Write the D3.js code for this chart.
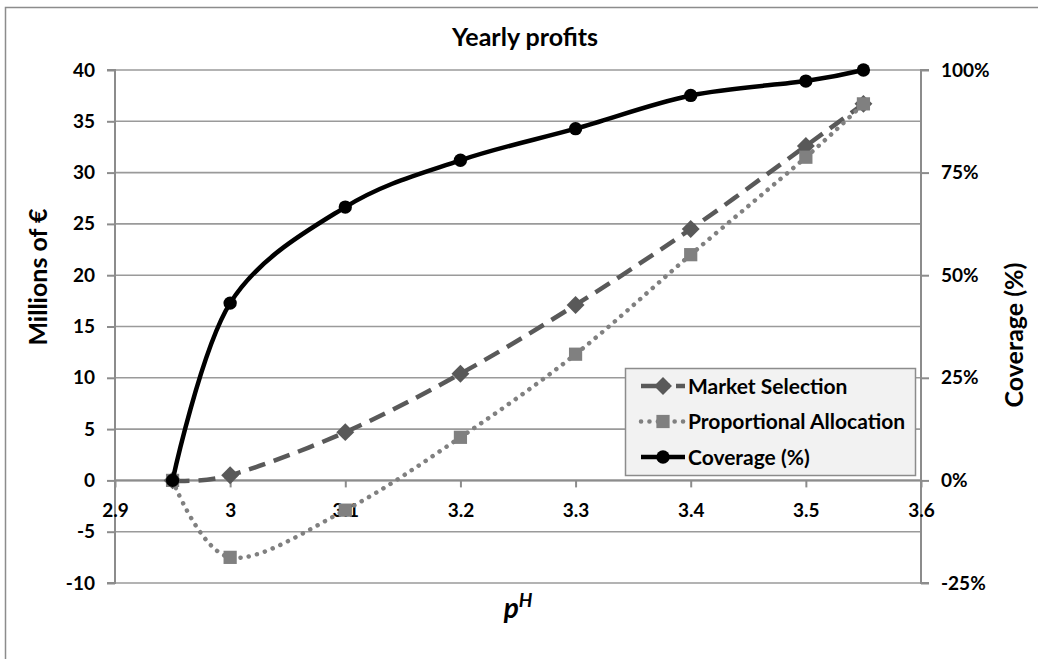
<!DOCTYPE html>
<html>
<head>
<meta charset="utf-8">
<script src="https://cdn.jsdelivr.net/npm/d3@7"></script>
<style>
  html, body { margin: 0; padding: 0; background: #fff; }
  svg text { font-family: Lato, "Open Sans", sans-serif; font-weight: bold; fill: #000; }
</style>
</head>
<body>
<svg id="chart" width="1038" height="659"></svg>
<script>
// Price levels p^H where the three series are sampled
const prices = [2.95, 3.0, 3.1, 3.2, 3.3, 3.4, 3.5, 3.55];
// Yearly profits, millions of euro
const marketSelection = [0, 0.5, 4.7, 10.4, 17.1, 24.5, 32.6, 36.7];
const proportionalAllocation = [0, -7.5, -2.9, 4.2, 12.3, 22.0, 31.5, 36.7];
// Coverage, percent
const coverage = [0, 43.2, 66.6, 78.0, 85.7, 93.8, 97.3, 100];

const xTicks = [2.9, 3.0, 3.1, 3.2, 3.3, 3.4, 3.5, 3.6];
const yLeftTicks = [-10, -5, 0, 5, 10, 15, 20, 25, 30, 35, 40];
const yRightTicks = [-25, 0, 25, 50, 75, 100];

const svg = d3.select("#chart");
const plot = { left: 115, right: 921, top: 70, bottom: 583 };

const x = d3.scaleLinear().domain([2.9, 3.6]).range([plot.left, plot.right]);
const yL = d3.scaleLinear().domain([-10, 40]).range([plot.bottom, plot.top]);
const yR = d3.scaleLinear().domain([-25, 100]).range([plot.bottom, plot.top]);

// outer chart frame
svg.append("rect")
  .attr("x", 5.5).attr("y", 7.5).attr("width", 1100).attr("height", 700)
  .attr("fill", "none").attr("stroke", "#8c8c8c").attr("stroke-width", 1.5);

// title
svg.append("text").attr("x", 525).attr("y", 46)
  .attr("text-anchor", "middle").style("font-size", "25px").text("Yearly profits");

const gridColor = "#9a9a9a";
// horizontal gridlines
svg.append("g").selectAll("line").data(yLeftTicks).join("line")
  .attr("x1", plot.left).attr("x2", plot.right)
  .attr("y1", d => yL(d)).attr("y2", d => yL(d))
  .attr("stroke", gridColor).attr("stroke-width", 1.6);

// left axis
const leftAxis = svg.append("g").attr("transform", `translate(${plot.left},0)`)
  .call(d3.axisLeft(yL).tickValues(yLeftTicks).tickSize(8).tickPadding(12).tickFormat(d => String(d)));
// right axis
const rightAxis = svg.append("g").attr("transform", `translate(${plot.right},0)`)
  .call(d3.axisRight(yR).tickValues(yRightTicks).tickSize(8).tickPadding(12).tickFormat(d => d + "%"));
// x axis crossing at zero
const bottomAxis = svg.append("g").attr("transform", `translate(0,${yL(0)})`)
  .call(d3.axisBottom(x).tickValues(xTicks).tickSize(7).tickPadding(16).tickFormat(d => String(+d.toFixed(1))));

[leftAxis, rightAxis, bottomAxis].forEach(g => {
  g.select(".domain").attr("stroke", "#8c8c8c").attr("stroke-width", 2);
  g.selectAll(".tick line").attr("stroke", "#8c8c8c").attr("stroke-width", 2);
  g.selectAll("text").style("font-size", "19px").style("font-family", "Lato, sans-serif").style("font-weight", "bold").attr("fill", "#000");
});
leftAxis.select(".domain").attr("d", `M-8,${plot.top}H0V${plot.bottom}H-8`);
rightAxis.select(".domain").attr("d", `M8,${plot.top}H0V${plot.bottom}H8`);
bottomAxis.select(".domain").attr("d", `M${plot.left},0H${plot.right}`);

// axis titles
svg.append("text")
  .attr("transform", `translate(47,277) rotate(-90)`)
  .attr("text-anchor", "middle").style("font-size", "25px").text("Millions of €");
svg.append("text")
  .attr("transform", `translate(1023,335) rotate(-90)`)
  .attr("text-anchor", "middle").style("font-size", "25px").text("Coverage (%)");
const xl = svg.append("text").attr("x", 518).attr("y", 618)
  .attr("text-anchor", "middle").style("font-size", "28px").style("font-style", "italic");
xl.append("tspan").text("p");
xl.append("tspan").attr("dy", -11).style("font-size", "19px").text("H");

const smooth = d3.curveCardinal.tension(0);

// series definitions
const series = [
  { name: "Market Selection", vals: marketSelection, y: yL, color: "#595959",
    width: 4.5, dash: "17,9", cap: "butt", marker: "diamond" },
  { name: "Proportional Allocation", vals: proportionalAllocation, y: yL, color: "#808080",
    width: 4.5, dash: "0.1,8.3", cap: "round", marker: "square" },
  { name: "Coverage (%)", vals: coverage, y: yR, color: "#000000",
    width: 4.5, dash: null, cap: "butt", marker: "circle" }
];

// diamond = square turned 45 degrees
const markerShape = {
  diamond: { d: d3.symbol().type(d3.symbolSquare).size(160)(), rot: 45 },
  square: { d: d3.symbol().type(d3.symbolSquare).size(175)(), rot: 0 },
  circle: { d: d3.symbol().type(d3.symbolCircle).size(140)(), rot: 0 }
};

series.forEach(s => {
  const pts = prices.map((p, i) => [x(p), s.y(s.vals[i])]);
  svg.append("path")
    .attr("d", d3.line().curve(smooth)(pts))
    .attr("fill", "none").attr("stroke", s.color).attr("stroke-width", s.width)
    .attr("stroke-dasharray", s.dash).attr("stroke-linecap", s.cap);
  const m = markerShape[s.marker];
  svg.append("g").selectAll("path").data(pts).join("path")
    .attr("transform", d => `translate(${d[0]},${d[1]}) rotate(${m.rot})`)
    .attr("d", m.d).attr("fill", s.color);
});

// legend
const lg = svg.append("g").attr("transform", "translate(625,368)");
lg.append("rect").attr("x", 0.5).attr("y", 0.5).attr("width", 290).attr("height", 107)
  .attr("fill", "#f2f2f2").attr("stroke", "#8c8c8c").attr("stroke-width", 1.5);
series.forEach((s, i) => {
  const cy = 18 + i * 35.5;
  lg.append("line").attr("x1", 16).attr("x2", 60).attr("y1", cy).attr("y2", cy)
    .attr("stroke", s.color).attr("stroke-width", s.width)
    .attr("stroke-dasharray", s.marker === "diamond" ? "20,6,3,6,20" : s.dash)
    .attr("stroke-linecap", s.cap);
  const m = markerShape[s.marker];
  lg.append("path").attr("transform", `translate(38,${cy}) rotate(${m.rot})`)
    .attr("d", m.d).attr("fill", s.color);
  lg.append("text").attr("x", 63).attr("y", cy).attr("dy", "0.36em")
    .style("font-size", "21px").text(s.name);
});
</script>
</body>
</html>
